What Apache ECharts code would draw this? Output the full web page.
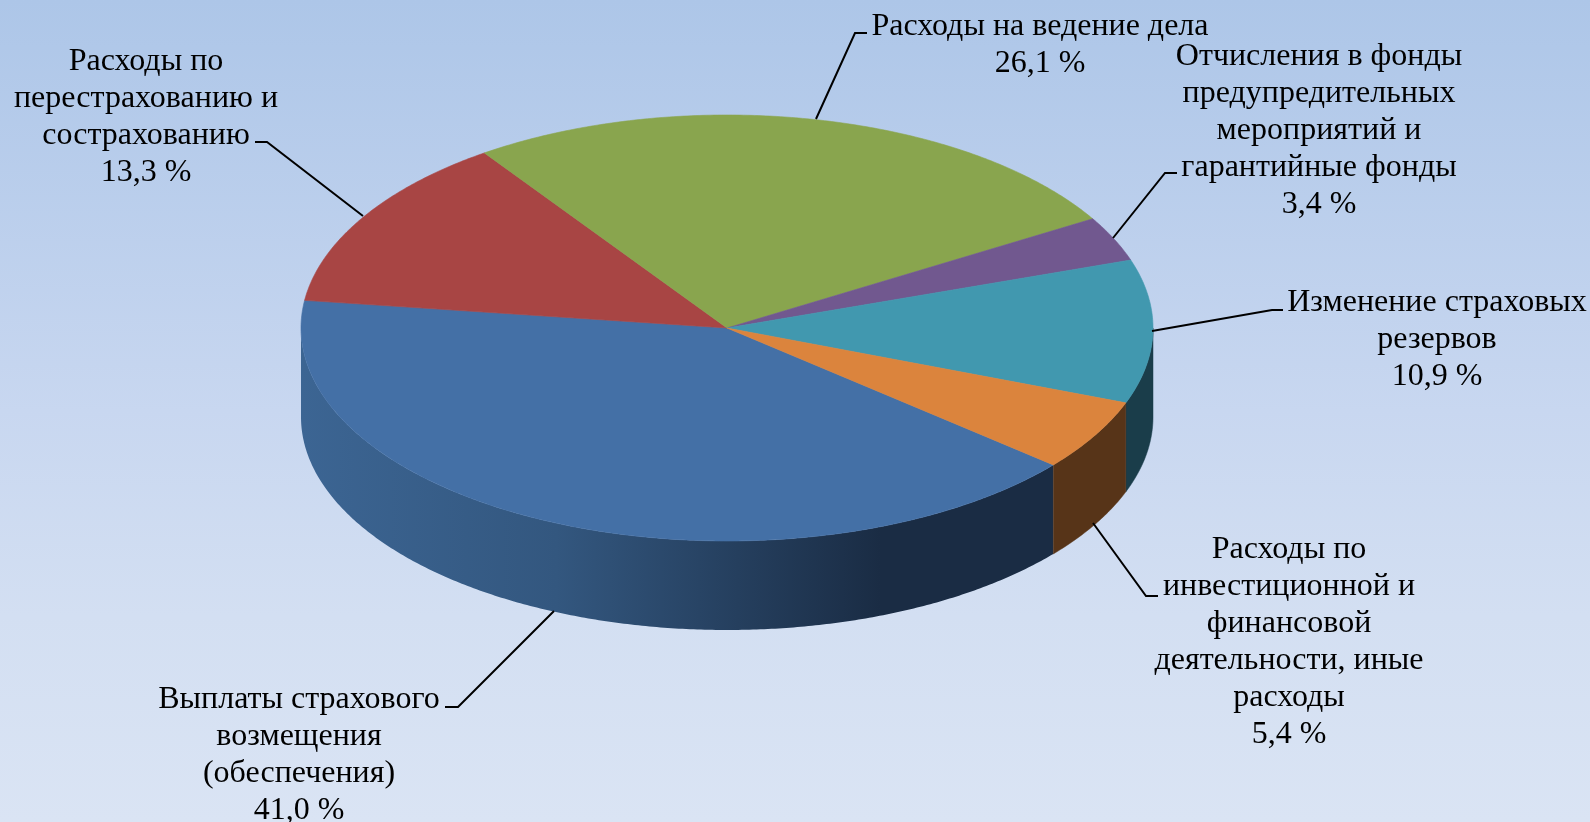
<!DOCTYPE html>
<html>
<head>
<meta charset="utf-8">
<title>Структура расходов</title>
<style>
    html, body { margin: 0; padding: 0; }
    #main { width: 1590px; height: 822px; }
</style>
<script src="https://cdn.jsdelivr.net/npm/echarts@6/dist/echarts.min.js"></script>
</head>
<body>
<div id="main"></div>
<script>
var names = [
    'Выплаты страхового\nвозмещения\n(обеспечения)',
    'Расходы по\nперестрахованию и\nсострахованию',
    'Расходы на ведение дела',
    'Отчисления в фонды\nпредупредительных\nмероприятий и\nгарантийные фонды',
    'Изменение страховых\nрезервов',
    'Расходы по\nинвестиционной и\nфинансовой\nдеятельности, иные\nрасходы'
]
var values = [41.0, 13.3, 26.1, 3.4, 10.9, 5.4]
var topColors = ['#4470a6', '#a84544', '#89a54e', '#71588f', '#4198af', '#db843d']
var wallColors = ['#1a2c44', '#5c2a29', '#52632f', '#423353', '#1a3d4a', '#573418']

// pie geometry, in px
var cx = 727, cy = 328, rx = 426, ry = 213, depth = 89
// the first slice starts 40deg below the +x axis, going clockwise
var startAngle = 40

// label box centre and leader line, per slice
var labelLayout = [
    { x: 299, y: 755, line: [[554, 611], [458, 707], [445, 707]] },
    { x: 146, y: 117, line: [[363, 216], [267, 142], [255, 142]] },
    { x: 1040, y: 45, line: [[816, 119], [855, 33], [867, 33]] },
    { x: 1319, y: 131, line: [[1113, 238], [1165, 173], [1177, 173]] },
    { x: 1437, y: 340, line: [[1152, 331], [1272, 310], [1283, 310]] },
    { x: 1289, y: 642, line: [[1093, 523], [1146, 596], [1158, 596]] }
]

var total = values.reduce(function (a, b) { return a + b }, 0)
var sliceData = []
var acc = startAngle
values.forEach(function (v, i) {
    var end = acc + v / total * 360
    sliceData.push([i, acc, end])
    acc = end
})

function rimPoint(deg, dy) {
    var a = deg * Math.PI / 180
    return [cx + rx * Math.cos(a), cy + ry * Math.sin(a) + (dy || 0)]
}

function arcPoints(from, to, dy) {
    var pts = []
    var n = Math.max(2, Math.ceil(Math.abs(to - from) * 2))
    for (var k = 0; k <= n; k++) {
        pts.push(rimPoint(from + (to - from) * k / n, dy))
    }
    return pts
}

function renderTop(params, api) {
    var i = api.value(0)
    var pts = [[cx, cy]].concat(arcPoints(api.value(1), api.value(2)))
    return {
        type: 'polygon',
        shape: { points: pts },
        style: { fill: topColors[i], stroke: topColors[i], lineWidth: 0.6 }
    }
}

// only the front half of the drum shows a wall (0..180deg)
function renderWall(params, api) {
    var i = api.value(0)
    var from = api.value(1), to = api.value(2)
    // slices that end past 360 wrap back round to the front
    if (to > 360) { from -= 360; to -= 360 }
    var a = Math.max(from, 0), b = Math.min(to, 180)
    if (b <= a) return null
    var pts = arcPoints(a, b).concat(arcPoints(b, a, depth))
    var fill = wallColors[i]
    if (i === 0) {
        fill = new echarts.graphic.LinearGradient(cx - rx, 0, cx + rx, 0, [
            { offset: 0, color: '#3c6593' },
            { offset: 0.3, color: '#33577f' },
            { offset: 0.68, color: '#1a2c44' },
            { offset: 1, color: '#1a2c44' }
        ], true)
    }
    return {
        type: 'polygon',
        shape: { points: pts },
        style: { fill: fill, stroke: i === 0 ? null : fill, lineWidth: 0.5 }
    }
}

function renderLabel(params, api) {
    var i = api.value(0)
    var pos = labelLayout[i]
    var text = names[i] + '\n' + values[i].toFixed(1).replace('.', ',') + ' %'
    return {
        type: 'group',
        children: [
            {
                type: 'polyline',
                shape: { points: pos.line },
                style: { fill: null, stroke: '#000', lineWidth: 2 }
            },
            {
                type: 'text',
                style: {
                    x: pos.x,
                    y: pos.y,
                    text: text,
                    fill: '#000',
                    align: 'center',
                    verticalAlign: 'middle',
                    font: '32px "Liberation Serif"',
                    lineHeight: 37
                }
            }
        ]
    }
}

var chart = echarts.init(document.getElementById('main'))
chart.setOption({
    animation: false,
    backgroundColor: {
        type: 'linear', x: 0, y: 0, x2: 0, y2: 1,
        colorStops: [
            { offset: 0, color: '#adc6e8' },
            { offset: 0.5, color: '#c8d7f0' },
            { offset: 0.75, color: '#d3dff2' },
            { offset: 1, color: '#dae4f4' }
        ]
    },
    series: [
        { type: 'custom', coordinateSystem: 'none', renderItem: renderWall, data: sliceData, z: 1, silent: true },
        { type: 'custom', coordinateSystem: 'none', renderItem: renderTop, data: sliceData, z: 2, silent: true },
        { type: 'custom', coordinateSystem: 'none', renderItem: renderLabel, data: sliceData, z: 3, silent: true }
    ]
})
</script>
</body>
</html>
